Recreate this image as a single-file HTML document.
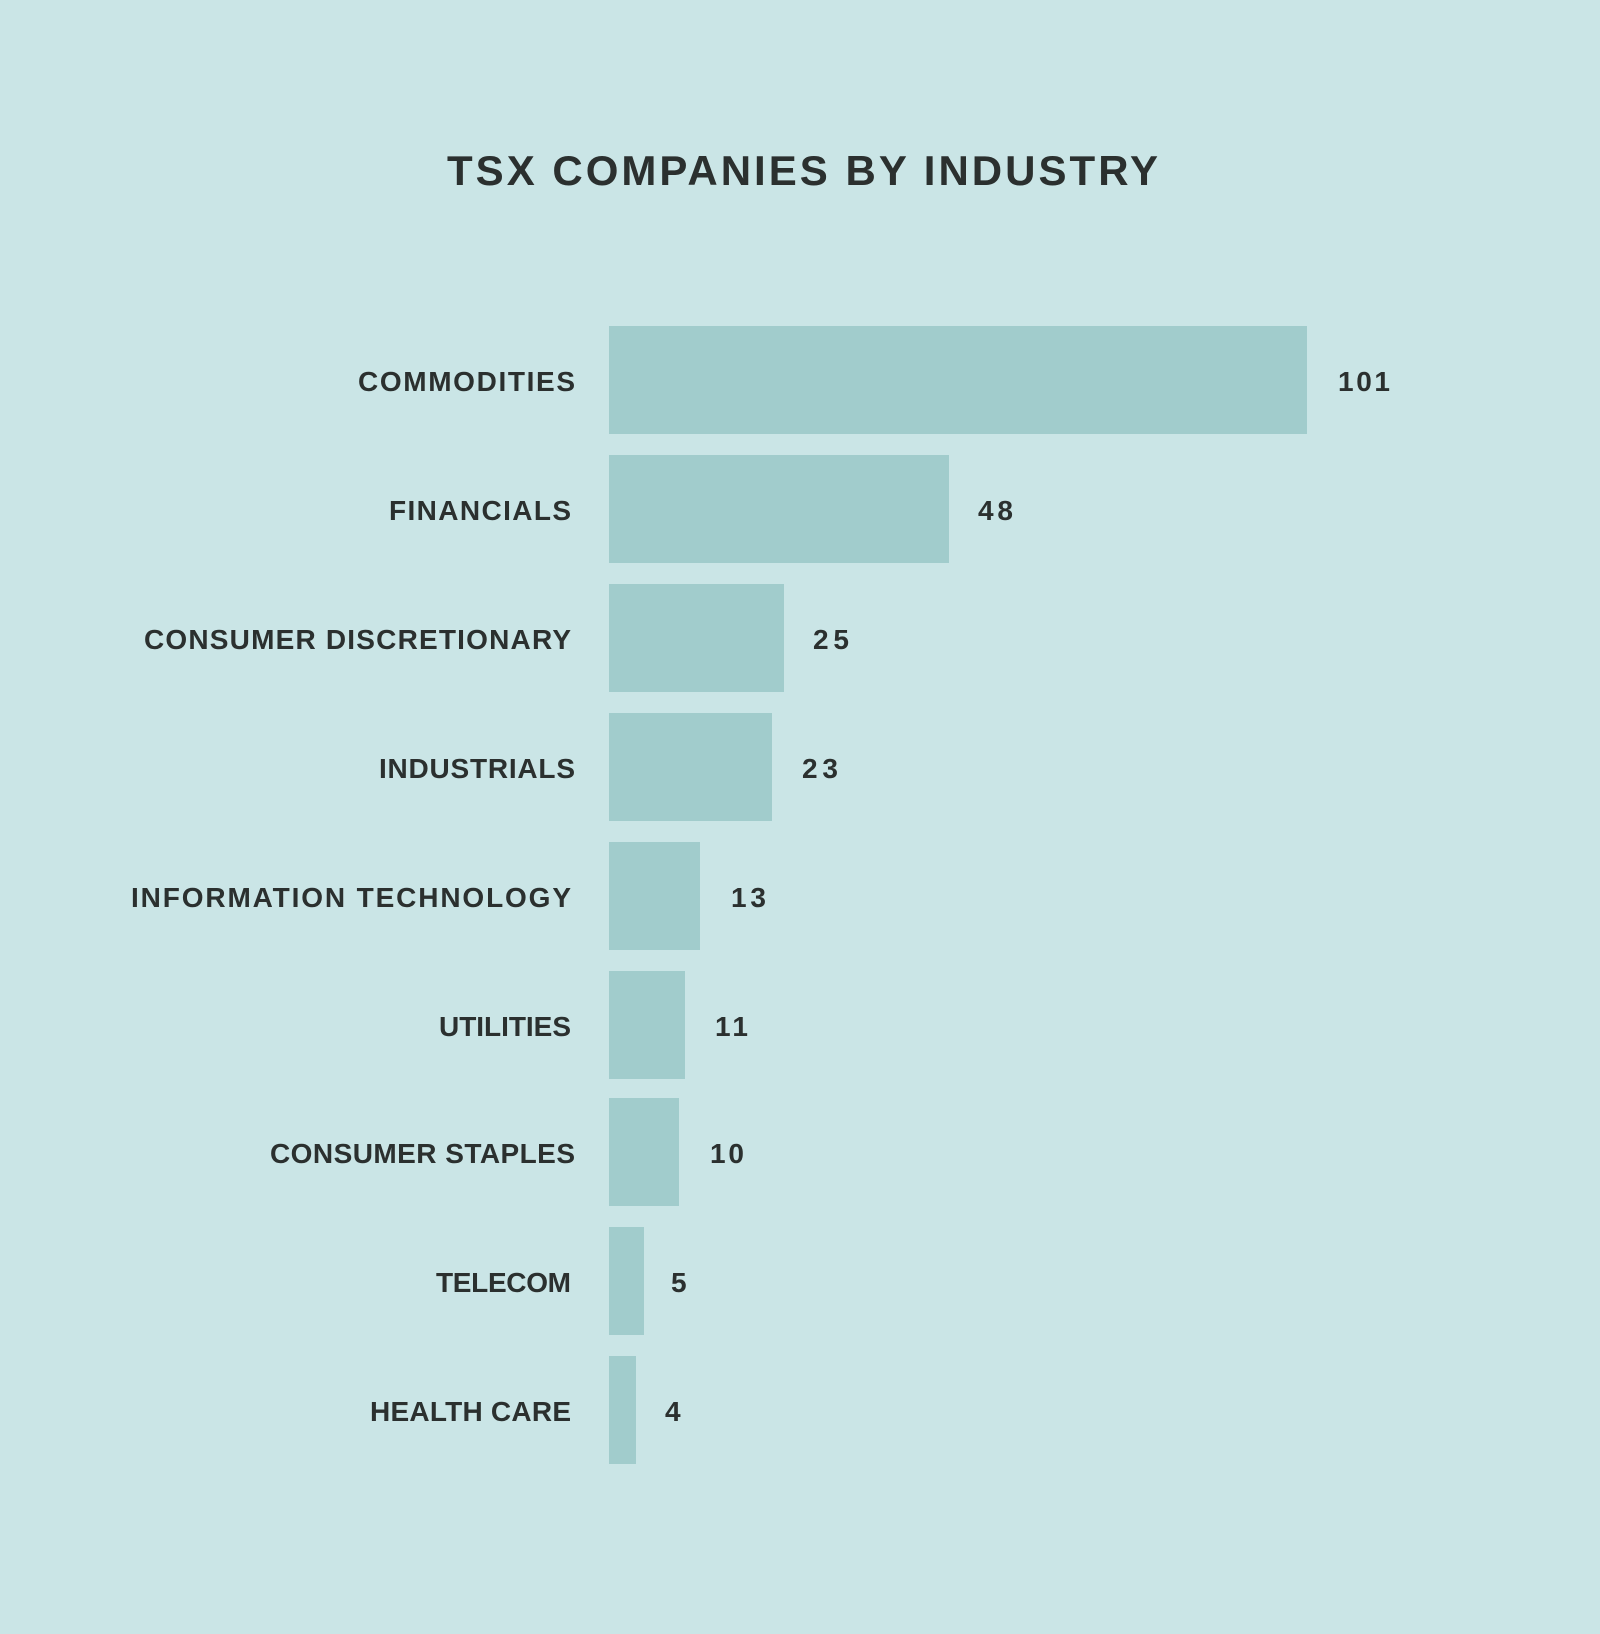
<!DOCTYPE html>
<html><head><meta charset="utf-8"><style>
html,body{margin:0;padding:0;background:#cae5e6;}
svg{display:block}
text{font-family:"Liberation Sans",sans-serif;font-weight:bold;fill:#2b302f;}
</style></head><body>
<svg width="1600" height="1634" viewBox="0 0 1600 1634">
<rect width="1600" height="1634" fill="#cae5e6"/>
<text x="447" y="185" font-size="42" textLength="711" lengthAdjust="spacing">TSX COMPANIES BY INDUSTRY</text>
<g fill="#a1cccc">
<rect x="609" y="326" width="698" height="108"/>
<rect x="609" y="455" width="340" height="108"/>
<rect x="609" y="584" width="175" height="108"/>
<rect x="609" y="713" width="163" height="108"/>
<rect x="609" y="842" width="91" height="108"/>
<rect x="609" y="971" width="76" height="108"/>
<rect x="609" y="1098" width="70" height="108"/>
<rect x="609" y="1227" width="35" height="108"/>
<rect x="609" y="1356" width="27" height="108"/>
</g>
<g font-size="28">
<text x="358" y="391" textLength="217" lengthAdjust="spacing">COMMODITIES</text>
<text x="389" y="520" textLength="182" lengthAdjust="spacing">FINANCIALS</text>
<text x="144" y="649" textLength="427" lengthAdjust="spacing">CONSUMER DISCRETIONARY</text>
<text x="379" y="778" textLength="196" lengthAdjust="spacing">INDUSTRIALS</text>
<text x="131" y="907" textLength="440" lengthAdjust="spacing">INFORMATION TECHNOLOGY</text>
<text x="439" y="1036" textLength="132" lengthAdjust="spacing">UTILITIES</text>
<text x="270" y="1163" textLength="305" lengthAdjust="spacing">CONSUMER STAPLES</text>
<text x="436" y="1292" textLength="135" lengthAdjust="spacing">TELECOM</text>
<text x="370" y="1421" textLength="201" lengthAdjust="spacing">HEALTH CARE</text>
<text x="1338" y="391" textLength="52" lengthAdjust="spacing">101</text>
<text x="978" y="520" textLength="35" lengthAdjust="spacing">48</text>
<text x="813" y="649" textLength="36" lengthAdjust="spacing">25</text>
<text x="802" y="778" textLength="36" lengthAdjust="spacing">23</text>
<text x="731" y="907" textLength="35" lengthAdjust="spacing">13</text>
<text x="715" y="1036" textLength="33" lengthAdjust="spacing">11</text>
<text x="710" y="1163" textLength="34" lengthAdjust="spacing">10</text>
<text x="671" y="1292">5</text>
<text x="665" y="1421">4</text>
</g>
</svg>
</body></html>
